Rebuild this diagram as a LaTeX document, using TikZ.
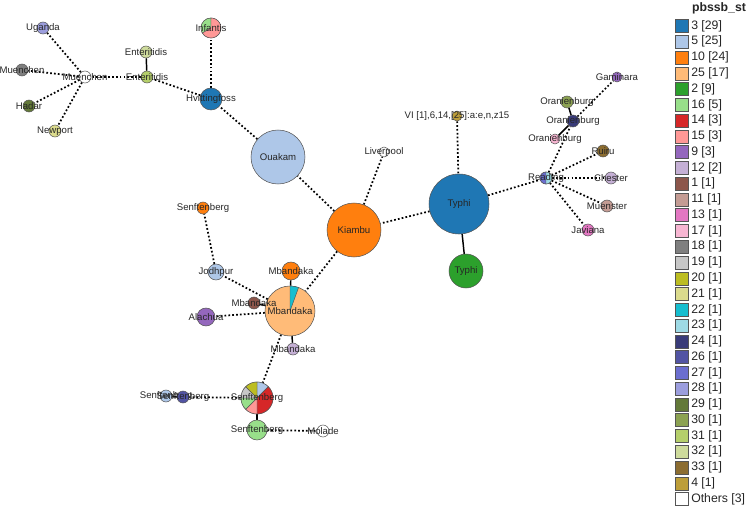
\documentclass[tikz,border=0pt]{standalone}
\usepackage{fontspec}
\setmainfont{Liberation Sans}
\usetikzlibrary{backgrounds}

% palette of the sequence types
\definecolor{c3}{HTML}{1F77B4}  \definecolor{c5}{HTML}{AEC7E8}
\definecolor{c10}{HTML}{FF7F0E} \definecolor{c25}{HTML}{FFBB78}
\definecolor{c2}{HTML}{2CA02C}  \definecolor{c16}{HTML}{98DF8A}
\definecolor{c14}{HTML}{D62728} \definecolor{c15}{HTML}{FF9896}
\definecolor{c9}{HTML}{9467BD}  \definecolor{c12}{HTML}{C5B0D5}
\definecolor{c1}{HTML}{8C564B}  \definecolor{c11}{HTML}{C49C94}
\definecolor{c13}{HTML}{E377C2} \definecolor{c17}{HTML}{F7B6D2}
\definecolor{c18}{HTML}{7F7F7F} \definecolor{c19}{HTML}{C7C7C7}
\definecolor{c20}{HTML}{BCBD22} \definecolor{c21}{HTML}{DBDB8D}
\definecolor{c22}{HTML}{17BECF} \definecolor{c23}{HTML}{9EDAE5}
\definecolor{c24}{HTML}{393B79} \definecolor{c26}{HTML}{5254A3}
\definecolor{c27}{HTML}{6B6ECF} \definecolor{c28}{HTML}{9C9EDE}
\definecolor{c29}{HTML}{637939} \definecolor{c30}{HTML}{8CA252}
\definecolor{c31}{HTML}{B5CF6B} \definecolor{c32}{HTML}{CEDB9C}
\definecolor{c33}{HTML}{8C6D31} \definecolor{c4}{HTML}{BD9E39}
\definecolor{rim}{HTML}{555555}

\tikzset{
  st/.style={circle, draw=rim, line width=0.4pt, inner sep=0pt, minimum size=#1*1.5pt},
  lbl/.style={font=\fontsize{7.2}{8}\selectfont, text=black!85, inner sep=0pt},
  leg/.style={font=\fontsize{9.2}{10}\selectfont, text=black!85, inner sep=0pt},
  link/.style={line width=1.3pt, dash pattern=on 1.3pt off 1.6pt},
  tie/.style={line width=1.1pt},
  slice/.style={draw=rim, line width=0.35pt},
}

\begin{document}
\begin{tikzpicture}[x=0.75pt, y=0.75pt]
\useasboundingbox (0,0) rectangle (749,-510);

% Typhi cluster
\node[st=30, fill=c3, label={[lbl]center:Typhi}] (typhiA) at (459,-204) {};
\node[st=17, fill=c2, label={[lbl]center:Typhi}] (typhiB) at (466,-271) {};
\node[st=5, fill=c4] (vi) at (457,-116) {};
\node[lbl] (vilbl) at (vi.center) {VI [1],6,14,[25]:a:e,n,z15};

% centre
\node[st=27, fill=c10, label={[lbl]center:Kiambu}] (kiambu) at (354,-230) {};
\node[st=27, fill=c5, label={[lbl]center:Ouakam}] (ouakam) at (278,-157) {};
\node[st=5, fill=white, label={[lbl]center:Liverpool}] (liverpool) at (384,-152) {};

% upper left
\node[st=11, fill=c3, label={[lbl]center:Hvittingfoss}] (hvitt) at (211,-99) {};
\node[st=10] (infantis) at (211,-28) {};
\node[st=6, fill=c32, label={[lbl]center:Enteritidis}] (enterA) at (146,-52) {};
\node[st=6, fill=c31, label={[lbl]center:Enteritidis}] (enterB) at (147,-77) {};
\node[st=6, fill=white, label={[lbl]center:Muenchen}] (muenW) at (85,-77) {};
\node[st=6, fill=c28, label={[lbl]center:Uganda}] (uganda) at (43,-28) {};
\node[st=6, fill=c18, label={[lbl]center:Muenchen}] (muenG) at (22,-70) {};
\node[st=6, fill=c29, label={[lbl]center:Hadar}] (hadar) at (29,-106) {};
\node[st=6, fill=c21, label={[lbl]center:Newport}] (newport) at (55,-131) {};

% Mbandaka cluster
\node[st=25, fill=c25] (mbB) at (290,-311) {};
\node[st=9, fill=c10, label={[lbl]center:Mbandaka}] (mbO) at (291,-271) {};
\node[st=6, fill=c1, label={[lbl]center:Mbandaka}] (mbBr) at (254,-303) {};
\node[st=6, fill=c12, label={[lbl]center:Mbandaka}] (mbP) at (293,-349) {};
\node[st=8, fill=c5, label={[lbl]center:Jodhpur}] (jodhpur) at (216,-272) {};
\node[st=6, fill=c10, label={[lbl]center:Senftenberg}] (senfO) at (203,-208) {};
\node[st=9, fill=c9, label={[lbl]center:Alachua}] (alachua) at (206,-317) {};

% Senftenberg cluster
\node[st=16] (senfPie) at (257,-398) {};
\node[st=10, fill=c16, label={[lbl]center:Senftenberg}] (senfG) at (257,-430) {};
\node[st=6, fill=white, label={[lbl]center:Molade}] (molade) at (323,-431) {};
\node[st=6, fill=c5, label={[lbl]center:Senftenberg}] (senfLB) at (166,-396) {};
\node[st=6, fill=c26, label={[lbl]center:Senftenberg}] (senfN) at (183,-397) {};

% Reading cluster
\node[st=6] (reading) at (546,-178) {};
\node[st=6, fill=c30, label={[lbl]center:Oranienburg}] (oranA) at (567,-102) {};
\node[st=6, fill=c24, label={[lbl]center:Oranienburg}] (oranB) at (573,-121) {};
\node[st=5, fill=c17, label={[lbl]center:Oranienburg}] (oranC) at (555,-139) {};
\node[st=5, fill=c9, label={[lbl]center:Gaminara}] (gaminara) at (617,-77) {};
\node[st=6, fill=c33, label={[lbl]center:Ruiru}] (ruiru) at (603,-151) {};
\node[st=6, fill=c12, label={[lbl]center:Chester}] (chester) at (611,-178) {};
\node[st=6, fill=c11, label={[lbl]center:Muenster}] (muenster) at (607,-206) {};
\node[st=6, fill=c13, label={[lbl]center:Javiana}] (javiana) at (588,-230) {};

% pie slices
\foreach \a/\b/\c in {90/210/c16, 210/450/c15}
  \filldraw[slice, fill=\c] (infantis.center) -- ++(\a:7.5pt) arc[start angle=\a, end angle=\b, radius=7.5pt] -- cycle;
\node[lbl] (infantislbl) at (infantis.center) {Infantis};

\filldraw[slice, fill=c22] (mbB.center) -- ++(70:18.75pt) arc[start angle=70, end angle=90, radius=18.75pt] -- cycle;
\node[lbl] (mbBlbl) at (mbB.center) {Mbandaka};

\foreach \a/\b/\c in {90/45/c5, 45/-90/c14, -90/-135/c15, -135/-180/c16, 180/135/c19, 135/90/c20}
  \filldraw[slice, fill=\c] (senfPie.center) -- ++(\a:12pt) arc[start angle=\a, end angle=\b, radius=12pt] -- cycle;
\node[lbl] (senfPielbl) at (senfPie.center) {Senftenberg};

\foreach \a/\b/\c in {90/270/c27, -90/90/c23}
  \filldraw[slice, fill=\c] (reading.center) -- ++(\a:4.5pt) arc[start angle=\a, end angle=\b, radius=4.5pt] -- cycle;
\node[lbl] (readinglbl) at (reading.center) {Reading};

% links
\begin{scope}[on background layer]
\foreach \p/\q in {vi/typhiA, typhiA/kiambu, typhiA/reading, kiambu/ouakam,
  kiambu/liverpool, kiambu/mbB, ouakam/hvitt, hvitt/infantis, hvitt/enterB,
  enterB/muenW, muenW/uganda, muenW/muenG, muenW/hadar, muenW/newport,
  mbB/jodhpur, jodhpur/senfO, mbB/alachua, mbB/senfPie, senfPie/senfN,
  senfG/molade, reading/oranB, oranB/gaminara, reading/ruiru, reading/chester,
  reading/muenster, reading/javiana}
  \draw[link] (\p) -- (\q);
\foreach \p/\q in {typhiA/typhiB, enterA/enterB, mbB/mbO, mbB/mbBr, mbB/mbP,
  senfPie/senfG, senfLB/senfN, oranA/oranB, oranB/oranC}
  \draw[tie] (\p) -- (\q);
\end{scope}

% legend
\node[leg, font=\fontsize{9.2}{10}\selectfont\bfseries] (legtitle) at (719,-8) {pbssb\_st};
\foreach \lab/\col [count=\i from 0] in {{3 [29]}/c3, {5 [25]}/c5, {10 [24]}/c10,
  {25 [17]}/c25, {2 [9]}/c2, {16 [5]}/c16, {14 [3]}/c14, {15 [3]}/c15, {9 [3]}/c9,
  {12 [2]}/c12, {1 [1]}/c1, {11 [1]}/c11, {13 [1]}/c13, {17 [1]}/c17, {18 [1]}/c18,
  {19 [1]}/c19, {20 [1]}/c20, {21 [1]}/c21, {22 [1]}/c22, {23 [1]}/c23, {24 [1]}/c24,
  {26 [1]}/c26, {27 [1]}/c27, {28 [1]}/c28, {29 [1]}/c29, {30 [1]}/c30, {31 [1]}/c31,
  {32 [1]}/c32, {33 [1]}/c33, {4 [1]}/c4, {Others [3]}/white} {
  \pgfmathsetmacro{\ry}{-(26+15.77*\i)}
  \filldraw[fill=\col, draw=rim, line width=0.4pt] (675,\ry+6.5) rectangle ++(13,-13);
  \node[leg, anchor=west] (leg\i) at (691,\ry) {\lab};
}
\end{tikzpicture}
\end{document}
